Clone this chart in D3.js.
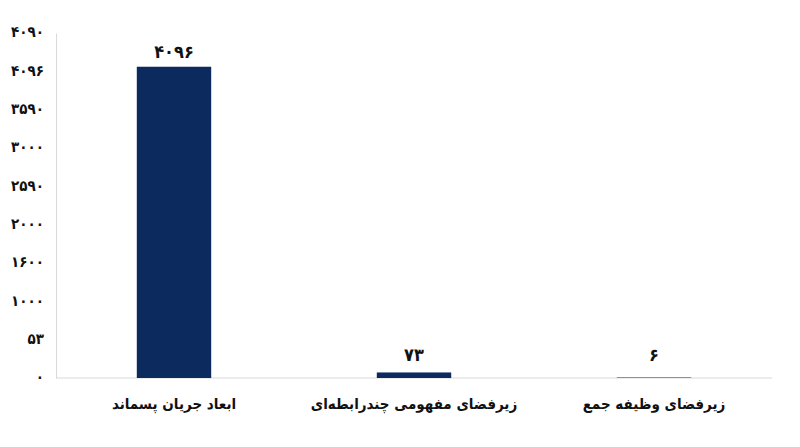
<!DOCTYPE html>
<html lang="fa">
<head>
<meta charset="utf-8">
<script src="https://cdn.jsdelivr.net/npm/d3@7"></script>
<style>
  body { margin: 0; background: #fff; }
  text { font-family: "DejaVu Sans Condensed", "DejaVu Sans", sans-serif; font-weight: bold; fill: #111; }
</style>
</head>
<body>
<svg id="chart" width="800" height="447"></svg>
<script>
const categories = ["ابعاد جریان پسماند", "زیرفضای مفهومی چندرابطه‌ای", "زیرفضای وظیفه جمع"];
const values = [4096, 73, 6];
const valueLabels = ["۴۰۹۶", "۷۳", "۶"];
const tickLabels = ["۰", "۵۳", "۱۰۰۰", "۱۶۰۰", "۲۰۰۰", "۲۵۹۰", "۳۰۰۰", "۳۵۹۰", "۴۰۹۶", "۴۰۹۰"];
const yMax = 4540;

const width = 800, height = 447;
const margin = { top: 33, right: 26, bottom: 69, left: 56 };

const svg = d3.select("#chart");

const x = d3.scaleBand()
  .domain(categories)
  .range([54, 774])
  .paddingInner(0.69)
  .paddingOuter(0.345);

const y = d3.scaleLinear()
  .domain([0, yMax])
  .range([height - margin.bottom, margin.top]);

const tickValues = tickLabels.map((_, i) => i * yMax / (tickLabels.length - 1));

// y axis
const yAxis = svg.append("g")
  .attr("transform", `translate(${margin.left},0)`)
  .call(d3.axisLeft(y).tickValues(tickValues).tickSize(0).tickPadding(12)
    .tickFormat((d, i) => tickLabels[i]));
yAxis.select(".domain").attr("stroke", "#d9d9d9");
yAxis.selectAll("text").style("font-size", "15px").attr("dy", "0.25em");

// baseline
svg.append("line")
  .attr("x1", margin.left).attr("x2", 772)
  .attr("y1", y(0)).attr("y2", y(0))
  .attr("stroke", "#d9d9d9");

// bars
svg.selectAll(".bar")
  .data(values)
  .enter()
  .append("rect")
  .attr("class", "bar")
  .attr("x", (d, i) => x(categories[i]))
  .attr("width", x.bandwidth())
  .attr("y", (d) => y(d))
  .attr("height", (d) => y(0) - y(d))
  .attr("fill", "#0d2a5e");

// value labels
svg.selectAll(".value-label")
  .data(values)
  .enter()
  .append("text")
  .attr("class", "value-label")
  .attr("x", (d, i) => x(categories[i]) + x.bandwidth() / 2)
  .attr("y", (d) => Math.min(y(d), y(0) - 8) - 9)
  .attr("text-anchor", "middle")
  .style("font-size", "18px")
  .text((d, i) => valueLabels[i]);

// category labels
svg.selectAll(".cat-label")
  .data(categories)
  .enter()
  .append("text")
  .attr("class", "cat-label")
  .attr("x", (d) => x(d) + x.bandwidth() / 2)
  .attr("y", 409)
  .attr("text-anchor", "middle")
  .attr("direction", "rtl")
  .style("font-size", "15px")
  .text((d) => d);
</script>
</body>
</html>
